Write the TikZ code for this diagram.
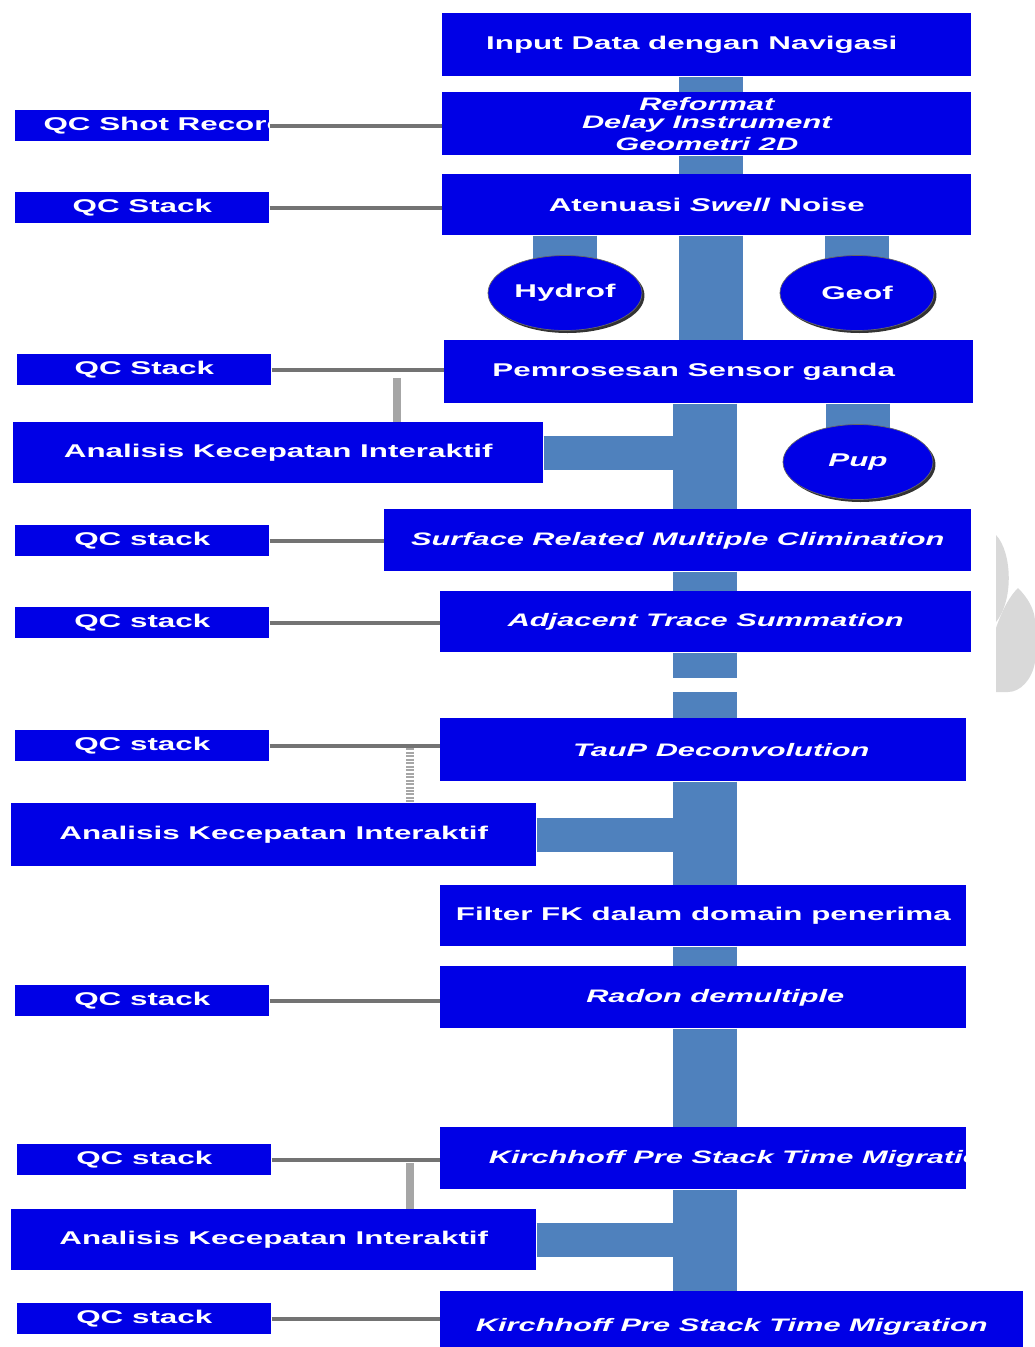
\documentclass[tikz,border=0pt]{standalone}
\usepackage{fontspec}
\newfontfamily\boxfont[FakeStretch=1.7]{Liberation Sans}
\usepackage{tikz}
\usetikzlibrary{shapes.geometric,shadows}

\definecolor{boxblue}{RGB}{0,0,230}
\definecolor{trunkblue}{RGB}{79,129,189}
\definecolor{wmgrey}{RGB}{217,217,217}

\begin{document}
\begin{tikzpicture}[x=0.02cm,y=-0.02cm,
txt/.style={text=white,font=\boxfont\bfseries\fontsize{10.5}{12.5}\selectfont},
itxt/.style={text=white,font=\boxfont\bfseries\itshape\fontsize{10.3}{12.5}\selectfont},
box/.style={txt,fill=boxblue,anchor=north west,inner sep=0pt,align=center,minimum width=10.58cm,minimum height=1.26cm},
ibox/.style={box,itxt},
qc/.style={box,minimum width=5.08cm,minimum height=0.62cm},
sensor/.style={txt,ellipse,fill=boxblue,draw=black!60,inner sep=0pt,minimum width=3.08cm,minimum height=1.5cm,drop shadow={shadow xshift=0.05cm,shadow yshift=-0.05cm,fill=black!80,opacity=1}},
trunk/.style={draw=trunkblue,line width=1.28cm},
branch/.style={draw=trunkblue,line width=0.68cm},
link/.style={draw=black!55,line width=0.08cm},
drop/.style={draw=black!35,line width=0.16cm}
]
\fill[white] (0,0) rectangle (1035,1347);
\useasboundingbox (0,0) rectangle (1035,1347);

\fill[wmgrey] (996,535) .. controls (1012,552) and (1014,600) .. (996,622) -- cycle;
\fill[wmgrey] (996,628) .. controls (1003,608) and (1010,596) .. (1018,588) .. controls (1028,598) and (1035,610) .. (1035,622) -- (1035,662) .. controls (1032,680) and (1020,692) .. (1008,692) -- (996,692) -- cycle;

\node[box] (input) at (442,13) {Input Data dengan Navigasi\kern0.6cm};
\node[ibox] (reform) at (442,92) {Reformat\\[-2pt]Delay Instrument\\Geometri 2D};
\node[box,minimum height=1.22cm] (aten) at (442,174) {Atenuasi \textit{Swell} Noise};
\node[box] (pem) at (444,340) {Pemrosesan Sensor ganda\kern0.6cm};
\node[box,minimum width=10.6cm,minimum height=1.22cm] (ana1) at (13,422) {Analisis Kecepatan Interaktif};
\node[ibox,minimum width=11.74cm,minimum height=1.24cm] (srme) at (384,509) {Surface Related Multiple Climination};
\node[ibox,minimum width=10.62cm,minimum height=1.22cm] (ats) at (440,591) {Adjacent Trace Summation};
\node[ibox,minimum width=10.52cm] (taup) at (440,718) {\kern0.72cm TauP Deconvolution};
\node[box,minimum width=10.5cm] (ana2) at (11,803) {Analisis Kecepatan Interaktif};
\node[box,minimum width=10.52cm,minimum height=1.22cm] (fk) at (440,885) {Filter FK dalam domain penerima};
\node[ibox,minimum width=10.52cm,minimum height=1.24cm] (radon) at (440,966) {\kern0.48cm Radon demultiple};
\node[ibox,minimum width=10.52cm,minimum height=1.24cm,path picture={
  \node[itxt,anchor=west,inner sep=0pt] (kpstm1txt) at ([xshift=0.82cm]path picture bounding box.west) {Kirchhoff Pre Stack Time Migration};
}] (kpstm1) at (440,1127) {};
\node[box,minimum width=10.5cm,minimum height=1.22cm] (ana3) at (11,1209) {Analisis Kecepatan Interaktif};
\node[ibox,minimum width=11.66cm,minimum height=1.4cm] (kpstm2) at (440,1291) {Kirchhoff Pre Stack Time Migration};

\node[qc,path picture={
  \node[txt,anchor=west,inner sep=0pt] (qcshottxt) at ([xshift=0.44cm]path picture bounding box.west) {QC Shot Record};
}] (qcshot) at (15,110) {};
\node[qc] (qc2) at (15,192) {QC Stack};
\node[qc] (qc3) at (17,354) {QC Stack};
\node[qc] (qc4) at (15,525) {QC stack};
\node[qc] (qc5) at (15,607) {QC stack};
\node[qc] (qc6) at (15,730) {QC stack};
\node[qc] (qc7) at (15,985) {QC stack};
\node[qc] (qc8) at (17,1144) {QC stack};
\node[qc] (qc9) at (17,1303) {QC stack};

\foreach \q/\m in {qcshot/reform,qc2/aten,qc3/pem,qc4/srme,qc5/ats,qc6/taup,qc7/radon,qc8/kpstm1,qc9/kpstm2}
  \draw[link] (\q.east) -- (\q.east -| \m.west);

\coordinate (spinetop) at (711,0);
\coordinate (spine) at (705,0);
\foreach \a/\b in {input/reform,reform/aten,aten/pem}
  \draw[trunk] (\a.south -| spinetop) -- (\b.north -| spinetop);
\foreach \a/\b in {pem/srme,srme/ats,taup/fk,fk/radon,radon/kpstm1,kpstm1/kpstm2}
  \draw[trunk] (\a.south -| spine) -- (\b.north -| spine);
\coordinate (cut1) at (705,678);
\coordinate (cut2) at (705,692);
\draw[trunk] (ats.south -| spine) -- (cut1);
\draw[trunk] (cut2) -- (taup.north -| spine);

\foreach \a in {ana1,ana2,ana3}
  \draw[branch] (\a.east) -- (\a.east -| spine);

\coordinate (hydc) at (565,293);
\coordinate (geofc) at (857,293);
\coordinate (pupc) at (858,462);
\draw[trunk] (aten.south -| hydc) -- (hydc);
\draw[trunk] (aten.south -| geofc) -- (geofc);
\draw[trunk] (pem.south -| pupc) -- (pupc);
\node[sensor] (hyd) at (hydc) {Hydrof};
\node[sensor] (geof) at (geofc) {Geof};
\node[sensor,minimum width=3.0cm] (pup) at (pupc) {\itshape Pup};

\coordinate (d1) at (397,378);
\coordinate (d2) at (410,748);
\coordinate (d3) at (410,1163);
\draw[drop] (d1) -- (d1 |- ana1.north);
\draw[drop,dash pattern=on 0.04cm off 0.03cm] (d2) -- (d2 |- ana2.north);
\draw[drop] (d3) -- (d3 |- ana3.north);
\end{tikzpicture}
\end{document}
